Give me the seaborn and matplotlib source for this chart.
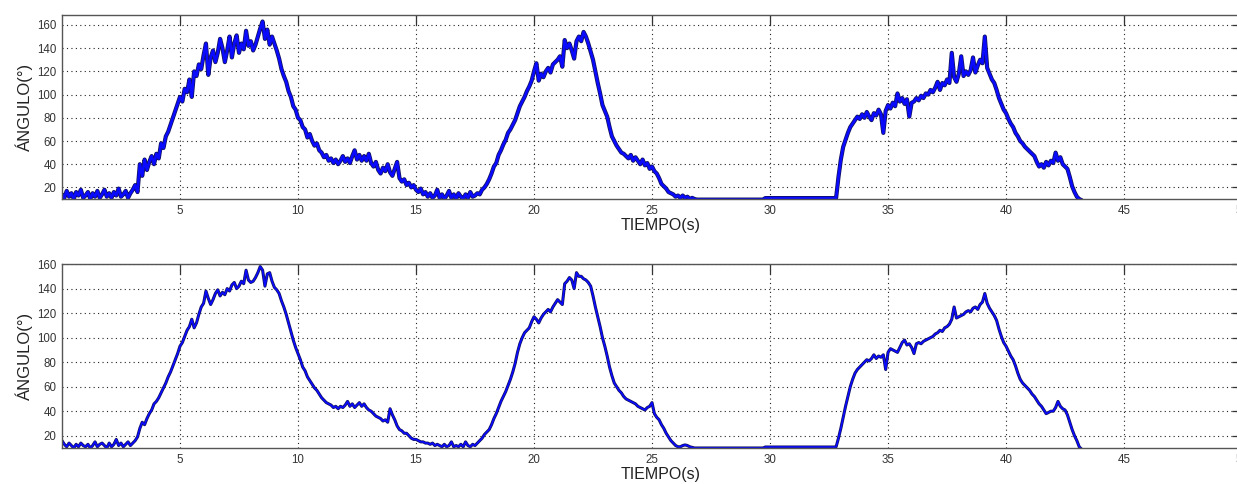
import numpy as np
import matplotlib
matplotlib.use('Agg')
import matplotlib.pyplot as plt
import matplotlib.patheffects as pe
import seaborn as sns

angle_top = [
    14, 11, 17, 12, 15, 10, 16, 13, 18, 11,
    13, 16, 10, 15, 12, 17, 11, 14, 18, 12,
    15, 11, 16, 13, 19, 12, 14, 17, 11, 15,
    18, 22, 16, 40, 30, 44, 35, 42, 47, 40,
    49, 45, 58, 54, 64, 68, 74, 80, 86, 92,
    98, 94, 105, 102, 113, 98, 120, 116, 126, 122,
    134, 144, 117, 132, 138, 128, 136, 148, 140, 128,
    138, 150, 132, 144, 151, 136, 144, 139, 155, 142,
    146, 138, 143, 150, 157, 163, 148, 156, 143, 150,
    144, 138, 131, 122, 116, 111, 103, 98, 90, 87,
    80, 78, 72, 70, 63, 66, 60, 56, 58, 52,
    50, 46, 48, 43, 45, 41, 44, 40, 43, 47,
    42, 45, 41, 47, 52, 44, 48, 43, 47, 43,
    49, 41, 38, 42, 35, 32, 37, 34, 40, 33,
    30, 36, 42, 28, 25, 27, 22, 24, 20, 22,
    18, 16, 19, 14, 16, 12, 15, 11, 13, 18,
    11, 14, 10, 13, 17, 11, 14, 10, 15, 12,
    10, 14, 11, 16, 12, 13, 15, 14, 18, 20,
    23, 27, 32, 38, 41, 48, 52, 57, 61, 67,
    70, 74, 78, 84, 90, 94, 98, 103, 107, 112,
    120, 127, 112, 118, 115, 120, 123, 119, 126, 128,
    130, 133, 124, 147, 140, 144, 138, 131, 146, 150,
    146, 154, 150, 144, 137, 130, 120, 110, 101, 91,
    86, 81, 72, 64, 60, 56, 53, 50, 49, 47,
    45, 48, 43, 46, 43, 40, 44, 39, 41, 36,
    38, 34, 32, 28, 23, 21, 19, 16, 15, 14,
    12, 13, 11, 13, 11, 12, 10, 11, 10, 9.5,
    9.5, 9.5, 9.5, 9.5, 9.5, 9.5, 9.5, 9.5, 9.5, 9.5,
    9.5, 9.5, 9.5, 9.5, 9.5, 9.5, 9.5, 9.5, 9.5, 9.5,
    9.5, 9.5, 9.5, 9.5, 9.5, 9.5, 9.5, 9.5, 10.8, 10.8,
    10.8, 10.8, 10.8, 10.8, 10.8, 10.8, 10.8, 10.8, 10.8, 10.8,
    10.8, 10.8, 10.8, 10.8, 10.8, 10.8, 10.8, 10.8, 10.8, 10.8,
    10.8, 10.8, 10.8, 10.8, 10.8, 10.8, 10.8, 10.8, 11, 29,
    44, 55, 61, 67, 72, 75, 78, 81, 79, 83,
    80, 85, 81, 78, 84, 82, 87, 83, 67, 86,
    91, 88, 93, 90, 101, 94, 97, 92, 96, 81,
    93, 94, 97, 95, 99, 97, 101, 100, 104, 102,
    106, 111, 104, 110, 108, 113, 110, 136, 115, 111,
    118, 133, 116, 120, 117, 121, 132, 119, 125, 130,
    127, 150, 123, 118, 113, 110, 104, 97, 92, 87,
    84, 79, 75, 72, 67, 64, 60, 58, 55, 53,
    51, 49, 47, 42, 38, 40, 37, 42, 39, 43,
    41, 50, 43, 46, 40, 38, 36, 29, 21, 16,
    12, 10, 9,
]

angle_bottom = [
    16, 13, 11, 14, 12, 10, 13, 11, 14, 12,
    11, 13, 10, 12, 15, 11, 13, 14, 12, 10,
    14, 11, 13, 17, 12, 14, 11, 13, 15, 12,
    14, 16, 19, 26, 31, 29, 34, 38, 41, 46,
    48, 51, 55, 59, 63, 68, 72, 77, 82, 87,
    93, 96, 101, 106, 109, 115, 108, 112, 119, 125,
    128, 138, 132, 127, 131, 136, 139, 134, 137, 135,
    140, 138, 143, 145, 140, 142, 146, 144, 155, 147,
    145, 146, 149, 153, 158, 155, 142, 152, 153, 146,
    141, 139, 136, 130, 125, 119, 112, 105, 98, 92,
    87, 82, 76, 73, 68, 65, 62, 59, 57, 54,
    51, 49, 47, 46, 45, 43, 44, 42, 44, 43,
    45, 48, 44, 46, 43, 45, 47, 44, 46, 43,
    41, 40, 38, 36, 35, 34, 32, 33, 31, 42,
    37, 33, 28, 25, 24, 22, 22, 20, 18, 17,
    17, 16, 15, 15, 14, 14, 13, 14, 12, 13,
    12, 11, 13, 11, 12, 15, 11, 12, 11, 13,
    11, 15, 12, 11, 13, 12, 14, 16, 18, 21,
    23, 25, 29, 34, 38, 43, 48, 52, 56, 61,
    66, 72, 79, 88, 95, 100, 104, 106, 108, 113,
    117, 115, 112, 116, 119, 121, 123, 121, 125, 128,
    131, 129, 127, 144, 146, 149, 147, 140, 153, 150,
    150, 148, 147, 145, 142, 134, 125, 117, 109, 100,
    93, 85, 76, 69, 63, 60, 57, 55, 52, 50,
    49, 48, 47, 46, 44, 43, 42, 41, 43, 44,
    47, 38, 35, 33, 29, 26, 22, 19, 16, 14,
    12, 11, 11, 12, 12.5, 12, 11, 10.5, 10, 10,
    10, 10, 10, 10, 10, 10, 10, 10, 10, 10,
    10, 10, 10, 10, 10, 10, 10, 10, 10, 10,
    10, 10, 10, 10, 10, 10, 10, 10, 10.8, 10.8,
    10.8, 10.8, 10.8, 10.8, 10.8, 10.8, 10.8, 10.8, 10.8, 10.8,
    10.8, 10.8, 10.8, 10.8, 10.8, 10.8, 10.8, 10.8, 10.8, 10.8,
    10.8, 10.8, 10.8, 10.8, 10.8, 10.8, 10.8, 10.8, 11, 18,
    26, 35, 44, 52, 60, 66, 71, 74, 76, 78,
    80, 82, 81, 83, 86, 83, 85, 84, 86, 74,
    88, 91, 90, 89, 88, 92, 96, 98, 94, 95,
    92, 87, 95, 96, 95, 97, 98, 99, 100, 101,
    103, 104, 106, 105, 108, 109, 111, 115, 125, 116,
    117, 118, 119, 121, 122, 121, 124, 125, 123, 127,
    129, 136, 128, 124, 121, 118, 114, 107, 101, 96,
    93, 89, 85, 82, 77, 71, 66, 63, 61, 59,
    57, 54, 52, 49, 46, 44, 41, 38, 39, 40,
    40, 43, 48, 44, 42, 41, 37, 31, 25, 20,
    16, 11, 9,
]

time_s = np.round(np.arange(len(angle_top)) * 0.1, 1)

x_ticks = [5, 10, 15, 20, 25, 30, 35, 40, 45, 50]
y_ticks = [20, 40, 60, 80, 100, 120, 140, 160]

sns.set_theme(style='white')
plt.rcParams['font.family'] = ['Liberation Sans', 'DejaVu Sans']

fig = plt.figure(figsize=(12.37, 4.84), dpi=100)
ax_top = fig.add_axes([0.0501, 0.5888, 0.954, 0.380])
ax_bot = fig.add_axes([0.0501, 0.0744, 0.954, 0.380])

panels = [
    (ax_top, angle_top, (10, 168.5), 1.9, 3.0),
    (ax_bot, angle_bottom, (10, 160), 1.2, 2.2),
]

for ax, values, ylim, lw, edge_lw in panels:
    sns.lineplot(x=time_s, y=values, ax=ax, color='#0a0aff', linewidth=lw)
    ax.lines[-1].set_path_effects([
        pe.Stroke(linewidth=edge_lw, foreground='#12125e'),
        pe.Normal(),
    ])
    ax.set_xlim(0, 50)
    ax.set_ylim(*ylim)
    ax.set_xticks(x_ticks)
    ax.set_yticks(y_ticks)
    ax.grid(True, linestyle=(0, (1, 3)), color='#222222', linewidth=0.8)
    ax.tick_params(direction='in', length=7, width=0.9, top=True, right=True,
                   labelsize=8.3, pad=4, colors='#333333', labelcolor='#333333')
    for spine in ax.spines.values():
        spine.set_color('#555555')
        spine.set_linewidth(1.0)
    ax.set_xlabel('TIEMPO(s)', fontsize=11.5, color='#222222')
    ax.set_ylabel('ÁNGULO(°)', fontsize=12, color='#222222')
    ax.xaxis.set_label_coords(0.507, -0.103)
    ax.yaxis.set_label_coords(-0.0246, 0.5)

fig.savefig('out.png', dpi=100)
